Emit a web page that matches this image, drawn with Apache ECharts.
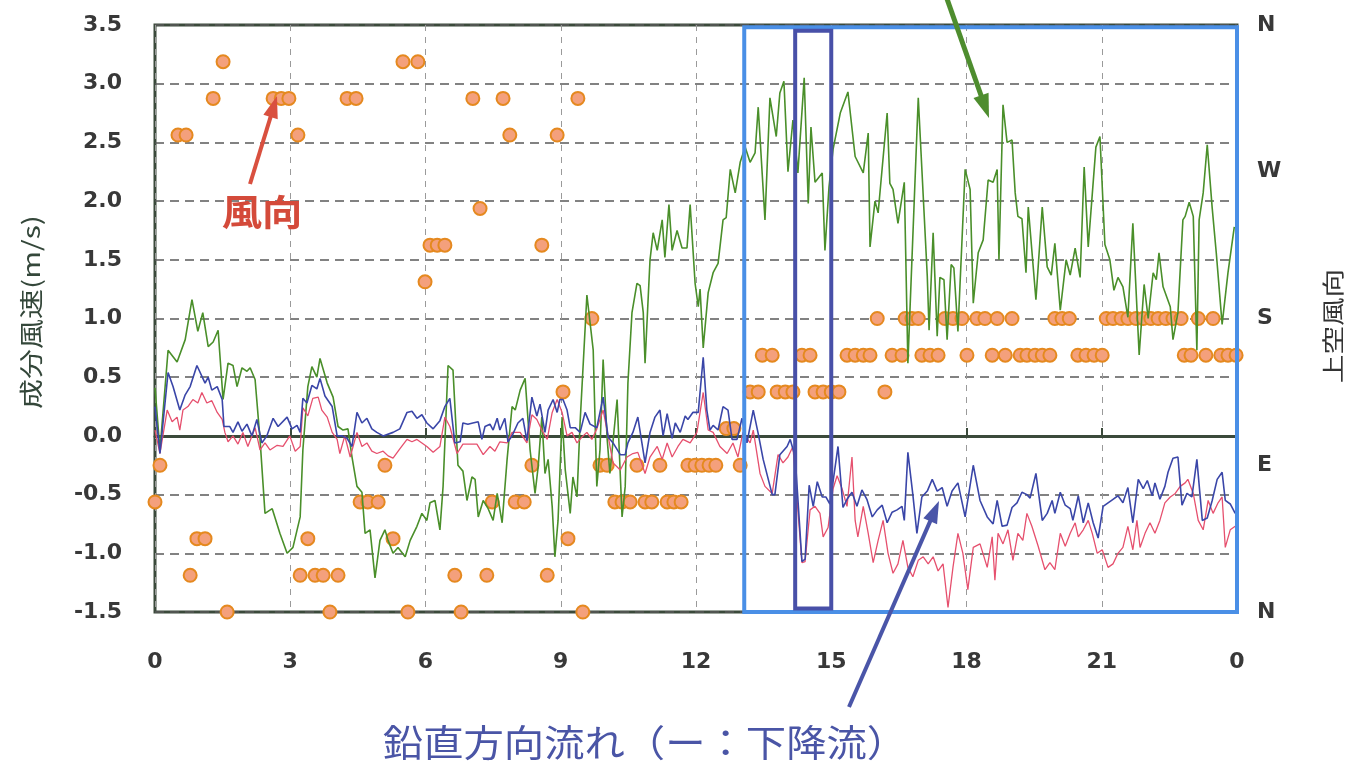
<!DOCTYPE html>
<html><head><meta charset="utf-8">
<script src="https://cdn.jsdelivr.net/npm/echarts@6/dist/echarts.min.js"></script>
<style>html,body{margin:0;padding:0;background:#fff}#c{width:1361px;height:771px}</style>
</head><body><div id="c"></div>
<script>
// ---- axis ticks / labels ----
const xLabels = ['0','3','6','9','12','15','18','21','0'];
const dirLabels = ['N','E','S','W','N'];
const DIRS16 = ['N','NNE','NE','ENE','E','ESE','SE','SSE','S','SSW','SW','WSW','W','WNW','NW','NNW'];
const leftName = '成分風速(m/s)';
const rightName = '上空風向';

// ---- green: horizontal wind component (time in hours, m/s) ----
const greenT = [0.00,0.11,0.29,0.49,0.67,0.82,0.95,1.06,1.18,1.29,1.40,1.51,1.62,1.73,1.82,1.93,2.04,2.11,2.22,2.33,2.44,2.60,2.77,2.93,3.06,3.22,3.28,3.39,3.48,3.59,3.66,3.82,3.95,4.06,4.17,4.28,4.37,4.48,4.59,4.66,4.77,4.88,4.99,5.10,5.17,5.28,5.39,5.55,5.66,5.81,5.92,6.03,6.10,6.21,6.32,6.39,6.50,6.61,6.72,6.83,6.92,7.03,7.10,7.17,7.28,7.39,7.50,7.59,7.70,7.81,7.92,7.99,8.10,8.21,8.25,8.32,8.43,8.50,8.58,8.65,8.72,8.81,8.87,8.94,9.03,9.10,9.21,9.27,9.36,9.43,9.58,9.72,9.80,9.87,9.94,10.03,10.09,10.25,10.36,10.43,10.49,10.58,10.69,10.76,10.83,10.87,10.98,11.05,11.14,11.25,11.31,11.40,11.47,11.58,11.69,11.80,11.87,11.98,12.05,12.09,12.16,12.27,12.38,12.49,12.60,12.67,12.76,12.87,12.98,13.09,13.20,13.31,13.38,13.53,13.64,13.78,13.86,13.95,14.04,14.15,14.26,14.40,14.49,14.55,14.64,14.80,14.86,14.95,15.04,15.20,15.37,15.53,15.71,15.82,15.86,15.97,16.04,16.24,16.30,16.37,16.48,16.62,16.70,16.93,17.13,17.17,17.26,17.35,17.41,17.50,17.57,17.66,17.72,17.81,17.97,18.08,18.15,18.26,18.37,18.48,18.59,18.68,18.72,18.81,18.90,19.01,19.08,19.14,19.23,19.32,19.37,19.54,19.68,19.79,19.88,19.96,20.08,20.21,20.30,20.41,20.52,20.61,20.70,20.87,20.96,21.07,21.18,21.27,21.36,21.47,21.58,21.69,21.83,21.94,22.03,22.14,22.21,22.27,22.36,22.52,22.58,22.69,22.80,22.85,22.94,23.03,23.11,23.16,23.25,23.34,23.45,23.54,23.67,23.80,23.94];
const greenV = [0.41,-0.12,0.73,0.63,0.82,1.16,0.89,1.05,0.76,0.80,0.90,0.31,0.62,0.60,0.42,0.58,0.55,0.58,0.48,-0.03,-0.66,-0.62,-0.83,-1.00,-0.95,-0.69,-0.12,0.42,0.59,0.50,0.66,0.45,0.33,0.08,0.05,0.06,-0.18,-0.43,-0.48,-0.83,-0.80,-1.21,-0.89,-0.80,-0.89,-1.00,-0.95,-1.03,-0.89,-0.77,-0.66,-0.72,-0.57,-0.55,-0.80,-0.43,0.60,0.56,-0.25,-0.30,-0.55,-0.35,-0.37,-0.69,-0.55,-0.62,-0.72,-0.49,-0.74,-0.20,0.25,0.22,0.39,0.49,0.50,-0.12,-0.49,-0.26,0.16,-0.32,-0.20,-0.60,-1.03,-0.72,0.16,-0.29,-0.66,-0.35,-0.52,0.12,1.20,0.73,-0.43,-0.12,0.65,-0.03,-0.32,0.31,-0.69,-0.43,0.45,1.05,1.30,1.28,1.05,0.62,1.50,1.73,1.58,1.84,1.52,1.97,1.58,1.75,1.60,1.60,1.97,1.30,1.10,1.25,0.75,1.22,1.39,1.47,1.84,1.86,2.27,2.07,2.33,2.46,2.33,2.41,2.80,1.84,2.88,2.55,2.92,3.02,2.25,2.69,2.24,3.05,1.98,2.63,2.16,2.24,1.58,2.12,2.44,2.75,2.93,2.38,2.24,2.58,1.61,2.00,1.90,2.75,2.15,2.10,1.81,2.16,0.62,2.88,1.36,0.90,1.73,0.85,1.35,1.33,0.82,1.46,1.43,0.89,2.27,2.10,1.13,1.56,1.67,2.18,2.16,2.27,1.50,2.82,2.50,2.52,2.07,1.87,1.85,1.39,1.95,1.16,1.95,1.44,1.37,1.64,1.07,1.50,1.37,1.60,1.35,2.29,1.61,2.46,2.55,1.63,1.50,1.24,1.35,1.27,1.01,1.81,0.69,1.29,1.00,1.39,1.33,1.56,1.27,1.10,0.82,1.05,1.84,1.87,1.99,1.87,0.73,1.84,2.07,2.48,1.94,1.56,0.95,1.39,1.78];

// ---- blue: vertical flow, upper level (m/s) ----
const blueT = [0.00,0.11,0.29,0.40,0.55,0.67,0.78,0.93,1.11,1.18,1.26,1.38,1.49,1.53,1.66,1.73,1.84,1.93,2.04,2.15,2.26,2.37,2.48,2.62,2.73,2.93,3.04,3.15,3.22,3.28,3.37,3.48,3.59,3.66,3.77,3.93,4.04,4.15,4.26,4.37,4.48,4.59,4.70,4.81,4.92,5.06,5.28,5.43,5.59,5.70,5.81,5.92,6.03,6.17,6.32,6.43,6.54,6.65,6.77,6.83,6.94,7.05,7.17,7.25,7.32,7.43,7.50,7.59,7.65,7.76,7.83,7.92,8.05,8.16,8.25,8.36,8.47,8.54,8.65,8.72,8.83,8.92,8.98,9.05,9.14,9.21,9.32,9.43,9.54,9.65,9.80,9.94,10.05,10.16,10.32,10.43,10.49,10.60,10.71,10.80,10.87,10.98,11.09,11.20,11.27,11.36,11.47,11.54,11.65,11.76,11.82,11.93,12.05,12.16,12.24,12.31,12.38,12.49,12.60,12.71,12.80,12.91,13.02,13.13,13.27,13.38,13.49,13.69,13.75,13.86,14.02,14.09,14.20,14.35,14.42,14.51,14.60,14.69,14.80,14.88,14.97,15.15,15.26,15.35,15.46,15.57,15.68,15.79,15.91,16.02,16.13,16.24,16.35,16.46,16.57,16.62,16.70,16.81,16.90,17.01,17.13,17.24,17.35,17.46,17.57,17.68,17.81,17.97,18.15,18.30,18.46,18.59,18.68,18.79,18.90,19.01,19.12,19.23,19.34,19.41,19.54,19.68,19.79,19.90,19.96,20.08,20.19,20.30,20.36,20.48,20.59,20.70,20.81,20.92,21.03,21.14,21.25,21.36,21.47,21.58,21.69,21.81,21.92,22.01,22.12,22.18,22.29,22.40,22.47,22.58,22.69,22.78,22.89,23.00,23.11,23.23,23.34,23.45,23.56,23.67,23.74,23.85,23.96];
const blueV = [0.25,-0.15,0.54,0.42,0.22,0.35,0.42,0.60,0.45,0.50,0.39,0.42,0.31,0.08,0.08,0.03,0.12,0.04,0.10,0.00,0.14,-0.06,0.00,0.15,0.08,0.16,0.06,0.09,0.03,0.32,0.28,0.43,0.40,0.49,0.34,0.25,0.00,0.00,-0.02,-0.09,0.20,0.11,0.15,0.06,0.03,0.00,0.03,0.06,0.20,0.21,0.15,0.18,0.11,0.06,0.13,0.25,0.32,-0.06,-0.05,0.11,0.10,0.11,0.12,-0.03,0.08,0.10,0.05,0.15,0.05,0.15,-0.05,0.00,0.11,0.15,-0.04,0.33,0.17,0.27,0.03,0.22,0.31,0.20,0.31,0.31,0.22,0.07,0.07,0.03,0.20,0.10,0.07,0.33,-0.01,-0.06,-0.16,-0.16,-0.06,0.03,0.16,-0.06,-0.23,0.03,0.16,0.22,0.00,0.19,-0.02,0.11,0.03,0.17,0.14,0.20,0.20,0.67,0.22,0.05,0.09,0.05,0.25,0.22,-0.03,-0.03,0.15,-0.06,0.22,0.02,-0.20,-0.50,-0.50,-0.16,-0.09,-0.03,-0.18,-1.07,-1.05,-0.42,-0.60,-0.39,-0.52,-0.52,-0.58,-0.09,-0.61,-0.54,-0.48,-0.60,-0.46,-0.54,-0.69,-0.63,-0.59,-0.74,-0.65,-0.63,-0.60,-0.72,-0.14,-0.50,-0.83,-0.52,-0.47,-0.37,-0.47,-0.44,-0.60,-0.47,-0.40,-0.69,-0.25,-0.55,-0.69,-0.75,-0.55,-0.77,-0.76,-0.61,-0.57,-0.48,-0.50,-0.53,-0.32,-0.72,-0.66,-0.55,-0.66,-0.48,-0.59,-0.62,-0.72,-0.51,-0.74,-0.57,-0.74,-0.87,-0.60,-0.57,-0.54,-0.51,-0.57,-0.44,-0.74,-0.37,-0.45,-0.38,-0.51,-0.40,-0.54,-0.43,-0.31,-0.19,-0.18,-0.59,-0.49,-0.52,-0.20,-0.72,-0.70,-0.55,-0.37,-0.31,-0.55,-0.58,-0.66];

// ---- pink: vertical flow, lower level (m/s) ----
const pinkT = [0.00,0.11,0.27,0.38,0.49,0.55,0.62,0.73,0.84,0.95,1.04,1.15,1.26,1.38,1.49,1.55,1.62,1.73,1.84,1.95,2.06,2.22,2.33,2.44,2.55,2.71,2.84,2.99,3.11,3.22,3.28,3.39,3.50,3.62,3.70,3.82,3.93,4.04,4.10,4.21,4.33,4.48,4.59,4.70,4.81,4.92,5.06,5.17,5.28,5.43,5.59,5.70,5.81,5.92,6.03,6.17,6.32,6.43,6.54,6.70,6.83,6.99,7.14,7.28,7.43,7.54,7.65,7.81,7.92,8.10,8.25,8.36,8.47,8.58,8.70,8.81,8.92,9.03,9.14,9.25,9.36,9.47,9.58,9.69,9.80,9.94,10.05,10.16,10.32,10.47,10.60,10.71,10.87,10.98,11.14,11.25,11.36,11.47,11.60,11.71,11.87,12.02,12.16,12.27,12.38,12.53,12.69,12.82,12.93,13.04,13.20,13.27,13.42,13.53,13.69,13.82,13.93,14.04,14.15,14.35,14.42,14.53,14.64,14.75,14.82,14.93,15.04,15.13,15.24,15.35,15.46,15.53,15.59,15.71,15.82,15.93,16.04,16.15,16.26,16.37,16.48,16.59,16.70,16.81,16.93,17.04,17.15,17.26,17.37,17.48,17.59,17.70,17.81,17.92,18.03,18.15,18.30,18.46,18.57,18.63,18.70,18.81,18.92,19.03,19.14,19.25,19.34,19.45,19.59,19.74,19.85,19.96,20.08,20.19,20.30,20.41,20.48,20.59,20.70,20.79,20.90,21.01,21.14,21.25,21.36,21.47,21.58,21.69,21.78,21.85,21.96,22.07,22.18,22.29,22.40,22.52,22.63,22.74,22.85,22.91,23.03,23.14,23.25,23.36,23.47,23.58,23.67,23.74,23.85,23.96];
const pinkV = [0.05,-0.15,0.22,0.12,0.16,0.05,0.22,0.25,0.31,0.28,0.37,0.28,0.30,0.20,0.14,0.03,-0.05,0.00,-0.07,0.03,-0.09,0.07,-0.12,-0.06,-0.12,-0.08,-0.09,0.00,-0.13,-0.09,0.24,0.17,0.32,0.33,0.22,0.16,0.03,-0.03,-0.15,0.00,-0.18,0.03,-0.09,-0.06,-0.13,-0.15,-0.13,-0.17,-0.19,-0.11,-0.03,-0.05,-0.03,-0.06,-0.09,-0.14,-0.09,0.16,0.08,-0.15,-0.07,-0.07,-0.07,-0.16,-0.09,-0.13,-0.05,-0.06,0.03,0.03,-0.06,0.18,0.14,0.05,-0.03,0.20,0.31,0.20,0.00,0.03,-0.06,-0.01,0.03,-0.03,0.06,0.22,0.00,-0.23,-0.29,-0.18,-0.15,-0.14,-0.32,-0.18,-0.09,-0.20,-0.06,-0.18,-0.09,-0.03,-0.06,0.03,0.37,0.05,0.03,-0.09,-0.15,-0.06,-0.18,0.03,-0.06,0.05,-0.32,-0.43,-0.49,-0.16,-0.23,-0.18,-0.09,-1.08,-1.07,-0.63,-0.60,-0.66,-0.86,-0.78,-0.45,-0.34,-0.45,-0.60,-0.18,-0.72,-0.86,-0.60,-0.83,-1.08,-0.89,-0.72,-1.00,-1.17,-1.09,-0.89,-1.12,-1.20,-1.06,-1.03,-1.09,-1.03,-1.15,-1.09,-1.46,-1.12,-0.83,-1.00,-1.31,-0.95,-0.92,-1.12,-0.86,-1.23,-0.83,-0.92,-0.80,-1.06,-0.83,-0.89,-0.66,-0.77,-0.94,-1.14,-1.08,-1.14,-0.83,-0.94,-0.83,-0.74,-0.86,-0.80,-0.72,-0.83,-1.00,-0.97,-1.12,-1.09,-1.00,-0.95,-0.77,-0.97,-0.72,-0.95,-0.83,-0.74,-0.83,-0.72,-0.57,-0.52,-0.49,-0.43,-0.40,-0.37,-0.49,-0.72,-0.80,-0.55,-0.66,-0.57,-0.52,-0.95,-0.80,-0.77];

// ---- orange dots: upper-air wind direction (time in hours, 16-point compass) ----
const dirT = [0.00,0.11,0.51,0.69,0.78,0.93,1.11,1.29,1.51,1.60,2.62,2.80,2.97,3.17,3.22,3.39,3.55,3.73,3.88,4.06,4.26,4.46,4.55,4.72,4.95,5.10,5.28,5.50,5.61,5.83,5.99,6.10,6.26,6.43,6.65,6.79,7.05,7.21,7.36,7.48,7.72,7.87,7.99,8.19,8.36,8.58,8.70,8.92,9.05,9.16,9.38,9.49,9.69,9.87,10.03,10.20,10.36,10.54,10.69,10.87,11.02,11.20,11.36,11.51,11.67,11.82,11.98,12.13,12.29,12.44,12.67,12.84,12.98,13.20,13.38,13.47,13.69,13.80,13.98,14.15,14.35,14.53,14.64,14.82,15.00,15.17,15.35,15.53,15.71,15.86,16.02,16.19,16.35,16.57,16.64,16.79,16.93,17.01,17.19,17.37,17.52,17.70,17.90,18.01,18.23,18.41,18.57,18.68,18.86,19.01,19.19,19.34,19.52,19.68,19.85,19.96,20.12,20.28,20.47,20.65,20.83,21.01,21.10,21.25,21.43,21.58,21.76,21.92,22.09,22.25,22.42,22.58,22.76,22.83,22.98,23.14,23.31,23.47,23.64,23.80,23.98];
const dirC = ['ENE','E','WNW','WNW','NNE','NE','NE','NW','NNW','N','NW','NW','NW','WNW','NNE','NE','NNE','NNE','N','NNE','NW','NW','ENE','ENE','ENE','E','NE','NNW','N','NNW','SSW','SW','SW','SW','NNE','N','NW','WSW','NNE','ENE','NW','WNW','ENE','ENE','E','SW','NNE','WNW','SE','NE','NW','N','S','E','E','ENE','ENE','ENE','E','ENE','ENE','E','ENE','ENE','ENE','E','E','E','E','E','ESE','ESE','E','SE','SE','SSE','SSE','SE','SE','SE','SSE','SSE','SE','SE','SE','SE','SSE','SSE','SSE','SSE','S','SE','SSE','SSE','S','S','S','SSE','SSE','SSE','S','S','S','SSE','S','S','SSE','S','SSE','S','SSE','SSE','SSE','SSE','SSE','S','S','S','SSE','SSE','SSE','SSE','S','S','S','S','S','S','S','S','S','S','S','SSE','SSE','S','SSE','S','SSE','SSE','SSE'];

function pairs(t, v) { return t.map((x, i) => [x, v[i]]); }
const dirData = dirT.map((t, i) => [t, DIRS16.indexOf(dirC[i]) * 22.5]);

const chart = echarts.init(document.getElementById('c'));
const tickFont = {fontSize: 22, fontWeight: 'bold', color: '#383838', fontFamily: 'DejaVu Sans'};
const axisDark = '#3b4a3b';

chart.setOption({
  animation: false,
  backgroundColor: '#fff',
  grid: {left: 155, right: 124, top: 25, bottom: 159, show: true, borderColor: axisDark, borderWidth: 3},
  xAxis: [
    {type: 'value', min: 0, max: 24, interval: 3,
     axisLine: {show: false, onZero: false}, axisTick: {show: false},
     axisLabel: Object.assign({margin: 39, formatter: v => xLabels[Math.round(v / 3)]}, tickFont),
     splitLine: {show: true, lineStyle: {color: '#9a9a9a', type: [6, 6], width: 1}}},
    {type: 'value', min: 0, max: 24, interval: 3, position: 'bottom',
     axisLine: {show: true, onZero: true, onZeroAxisIndex: 0, lineStyle: {color: axisDark, width: 3}},
     axisTick: {show: true, inside: true, length: 8, lineStyle: {color: axisDark, width: 2}},
     axisLabel: {show: false}, splitLine: {show: false}}
  ],
  yAxis: [
    {type: 'value', min: -1.5, max: 3.5, interval: 0.5, position: 'left',
     axisLine: {show: false}, axisTick: {show: false},
     axisLabel: Object.assign({margin: 33, formatter: v => v.toFixed(1)}, tickFont),
     splitLine: {show: true, lineStyle: {color: '#5a5a5a', type: [9, 6], width: 1.5}}},
    {type: 'value', min: 0, max: 360, interval: 90, position: 'right',
     axisLine: {show: false}, axisTick: {show: false},
     axisLabel: Object.assign({margin: 20, formatter: v => dirLabels[Math.round(v / 90)]}, tickFont),
     splitLine: {show: false}}
  ],
  series: [
    {type: 'scatter', yAxisIndex: 1, data: dirData, symbolSize: 13, z: 2,
     itemStyle: {color: '#f4a07c', borderColor: '#e5891f', borderWidth: 2, opacity: 1}},
    {type: 'line', data: pairs(greenT, greenV), showSymbol: false, z: 3,
     lineStyle: {color: '#4a8f2a', width: 1.6}},
    {type: 'line', data: pairs(pinkT, pinkV), showSymbol: false, z: 4,
     lineStyle: {color: '#e6506e', width: 1.3}},
    {type: 'line', data: pairs(blueT, blueV), showSymbol: false, z: 5,
     lineStyle: {color: '#3a46a8', width: 1.6}}
  ]
});

// ---- annotations ----
function arrow(x1, y1, x2, y2, color, w, hl, hw) {
  const dx = x2 - x1, dy = y2 - y1, L = Math.hypot(dx, dy), ux = dx / L, uy = dy / L;
  const bx = x2 - ux * hl, by = y2 - uy * hl, px = -uy, py = ux;
  return [
    {type: 'line', z: 20, shape: {x1: x1, y1: y1, x2: bx + ux * 2, y2: by + uy * 2}, style: {stroke: color, lineWidth: w}},
    {type: 'polygon', z: 20, shape: {points: [[x2, y2], [bx + px * hw / 2, by + py * hw / 2], [bx - px * hw / 2, by - py * hw / 2]]}, style: {fill: color}}
  ];
}
function rectFromData(t0, t1, v0, v1, color, w) {
  const a = chart.convertToPixel({xAxisIndex: 0, yAxisIndex: 0}, [t0, v0]);
  const b = chart.convertToPixel({xAxisIndex: 0, yAxisIndex: 0}, [t1, v1]);
  return {type: 'rect', z: 15, shape: {x: a[0], y: a[1], width: b[0] - a[0], height: b[1] - a[1]},
          style: {fill: 'none', stroke: color, lineWidth: w}};
}
function label(text, x, y, font, color, rot, sx) {
  return {type: 'text', z: 20, x: x, y: y, rotation: rot || 0, scaleX: sx || 1,
          style: {text: text, fill: color, font: font, textAlign: 'center', textVerticalAlign: 'middle'}};
}
const g = [
  rectFromData(13.07, 24, 3.48, -1.5, '#4a8fe6', 4),
  rectFromData(14.2, 15.0, 3.45, -1.47, '#4850a8', 4),
  label('風向', 262, 212, 'bold 36px "Noto Sans CJK JP"', '#d44a3a', 0, 1.12),
  label('鉛直方向流れ（ー：下降流）', 645, 743, '37px "Noto Sans CJK JP"', '#4a55a6', 0, 1.09),
  label(leftName, 31, 312, '24px "Noto Sans CJK JP"', '#34473a', Math.PI / 2, 1.25),
  label(rightName, 1333, 326, '22px "Noto Sans CJK JP"', '#333333', Math.PI / 2, 1.3)
].concat(arrow(250, 184, 277, 96, '#d9503f', 4, 22, 15))
 .concat(arrow(946, -4, 989, 118, '#4e8d2e', 5, 24, 16))
 .concat(arrow(849, 707, 939, 501, '#4a55a8', 4, 22, 15));
chart.setOption({graphic: g});
</script>
</body></html>
